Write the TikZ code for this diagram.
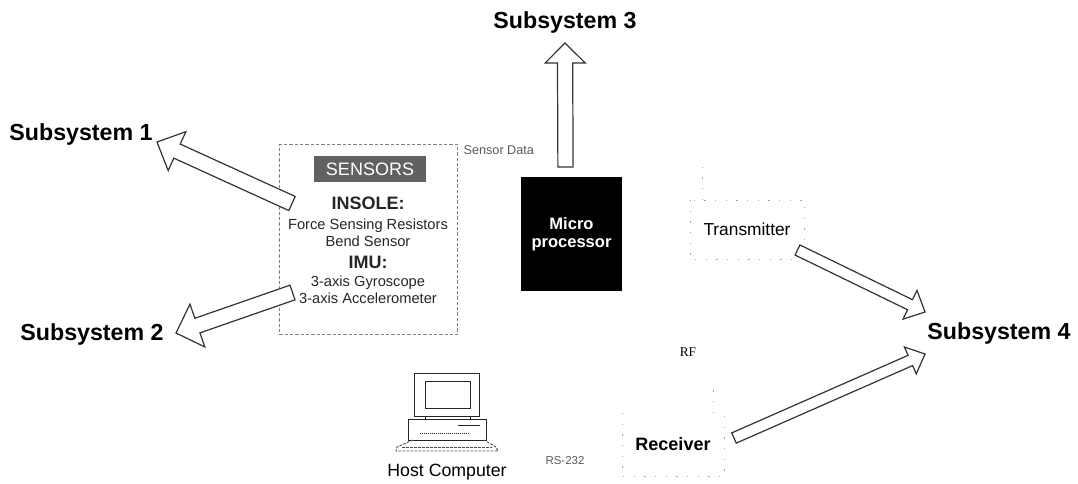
\documentclass[tikz,border=0pt]{standalone}
\usepackage{fontspec}
\setmainfont{Liberation Sans}
\newfontfamily\rffont{Liberation Serif}
\usetikzlibrary{calc, positioning}
\tikzset{
  sn big/.style={font=\fontsize{17.4}{20}\selectfont\bfseries, inner sep=2pt},
  sn arrow/.style={draw=black!80, fill=white, line width=0.9pt, line join=miter},
  sn dash/.style={draw=black!50, line width=0.6pt, dash pattern=on 2.5pt off 1.5pt},
  sn faint/.style={draw=black!35, line width=0.6pt, dash pattern=on 1pt off 7pt},
  sn small/.style={text=black!65, inner sep=1pt},
  sn line/.style={draw=black!85, line width=0.7pt},
  sn kbd/.style={draw=black!70, line width=0.7pt, dash pattern=on 2pt off 1pt},
}
% tail, tip, half shaft, head length, half head
\newcommand{\blockarrow}[5]{%
  \draw[sn arrow] ($(#1)!#3!90:(#2)$)
    -- ($(#2)!#4!(#1)!#3!-90:(#1)$)
    -- ($(#2)!#4!(#1)!#5!-90:(#1)$)
    -- (#2)
    -- ($(#2)!#4!(#1)!#5!90:(#1)$)
    -- ($(#2)!#4!(#1)!#3!90:(#1)$)
    -- ($(#1)!#3!-90:(#2)$) -- cycle;
}
\begin{document}
\begin{tikzpicture}[x=0.75pt, y=-0.75pt]
 \useasboundingbox (0,0) rectangle (1078,483);
 % targets
 \node[sn big] (sub1) at (81,134) {Subsystem 1};
 \node[sn big] (sub2) at (92,334) {Subsystem 2};
 \node[sn big] (sub3) at (565,22) {Subsystem 3};
 \node[sn big] (sub4) at (999,333) {Subsystem 4};
 % sensor block
 \node[sn dash, minimum width=134pt, minimum height=142pt, inner sep=0pt] (sensors) at (368.5,239.5) {};
 \node[fill=black!62, text=white, font=\fontsize{13.5}{15}\selectfont, minimum width=84pt, minimum height=19pt, inner sep=0pt] (senstitle) at (370,169) {SENSORS};
 \node[align=center, below=11pt of senstitle.south, anchor=north, xshift=-1.5pt, inner sep=0pt, font=\fontsize{11}{13}\selectfont, text=black!85] (senstext)
   {{\fontsize{13.5}{13.5}\selectfont\bfseries INSOLE:}\\[2pt]
    Force Sensing Resistors\\
    Bend Sensor\\[3.3pt]
    {\fontsize{13.5}{13.5}\selectfont\bfseries IMU:}\\[0.5pt]
    3-axis Gyroscope\\
    3-axis Accelerometer};
 \node[sn small, font=\fontsize{9.5}{12}\selectfont, anchor=west] (sensdata) at (462,150) {Sensor Data};
 % micro
 \node[fill=black, text=white, align=center, minimum width=75.5pt, minimum height=85.5pt, inner sep=0pt,
   font=\fontsize{12.4}{13.5}\selectfont\bfseries] (micro) at (571.5,234) {Micro\\processor};
 % radios
 \node[minimum width=85pt, minimum height=44pt, inner sep=0pt, font=\fontsize{13}{15}\selectfont] (trans) at (747,229.5) {Transmitter};
 \draw[sn faint] (trans.north west) -- (trans.south west) -- (trans.south east) -- (trans.north east) -- cycle;
 \draw[sn faint] ([xshift=9pt]trans.north west) -- ++(0,-34);
 \node[minimum width=76pt, minimum height=47pt, inner sep=0pt, font=\fontsize{13.5}{15}\selectfont\bfseries] (recv) at (673,444.5) {Receiver};
 \draw[sn faint] (recv.north west) -- (recv.south west) -- (recv.south east) -- (recv.north east);
 \draw[sn faint] ([xshift=-8pt]recv.north east) -- ++(0,-30);
 \node[font=\rffont\fontsize{10}{12}\selectfont, inner sep=1pt] (rf) at (688,352) {RF};
 \node[sn small, font=\fontsize{8.6}{10}\selectfont] (rs) at (565,461) {RS-232};
 % host computer
 \node[font=\fontsize{13.3}{15}\selectfont, inner sep=1pt] (host) at (447,472) {Host Computer};
 \draw[sn line] (414,373) rectangle (479,416);
 \draw[sn line] (425,381) rectangle (470,408);
 \draw[sn line] (425,416) -- (425,419) (470,416) -- (470,419);
 \draw[sn line] (408,419) rectangle (486,440);
 \draw[sn line, line width=0.5pt, densely dotted] (420,433) -- (470,433);
 \draw[sn line, line width=0.5pt] (458,425) -- (480,425);
 \draw[sn kbd] (413,440) -- (397,447) -- (396,451) -- (498,451) -- (496,447) -- (484,440);
 \draw[sn kbd] (402,447) -- (492,447);
 % arrows
 \coordinate (tail1) at (292,203.5);
 \coordinate (tip1) at (157,142);
 \coordinate (tail2) at (292.5,292.5);
 \coordinate (tip2) at (176,333);
 \coordinate (tail3) at (565.5,167);
 \coordinate (tip3) at (565,43);
 \coordinate (tailt) at (797.5,250);
 \coordinate (tipt) at (925,312);
 \coordinate (tailr) at (734,438);
 \coordinate (tipr) at (925,354);
 \blockarrow{tail1}{tip1}{5.8pt}{16.5pt}{16pt}
 \blockarrow{tail2}{tip2}{5.8pt}{17pt}{17pt}
 \blockarrow{tail3}{tip3}{5.7pt}{15pt}{15pt}
 \blockarrow{tailt}{tipt}{4.2pt}{12.5pt}{12pt}
 \blockarrow{tailr}{tipr}{4.2pt}{12pt}{11pt}
\end{tikzpicture}
\end{document}
